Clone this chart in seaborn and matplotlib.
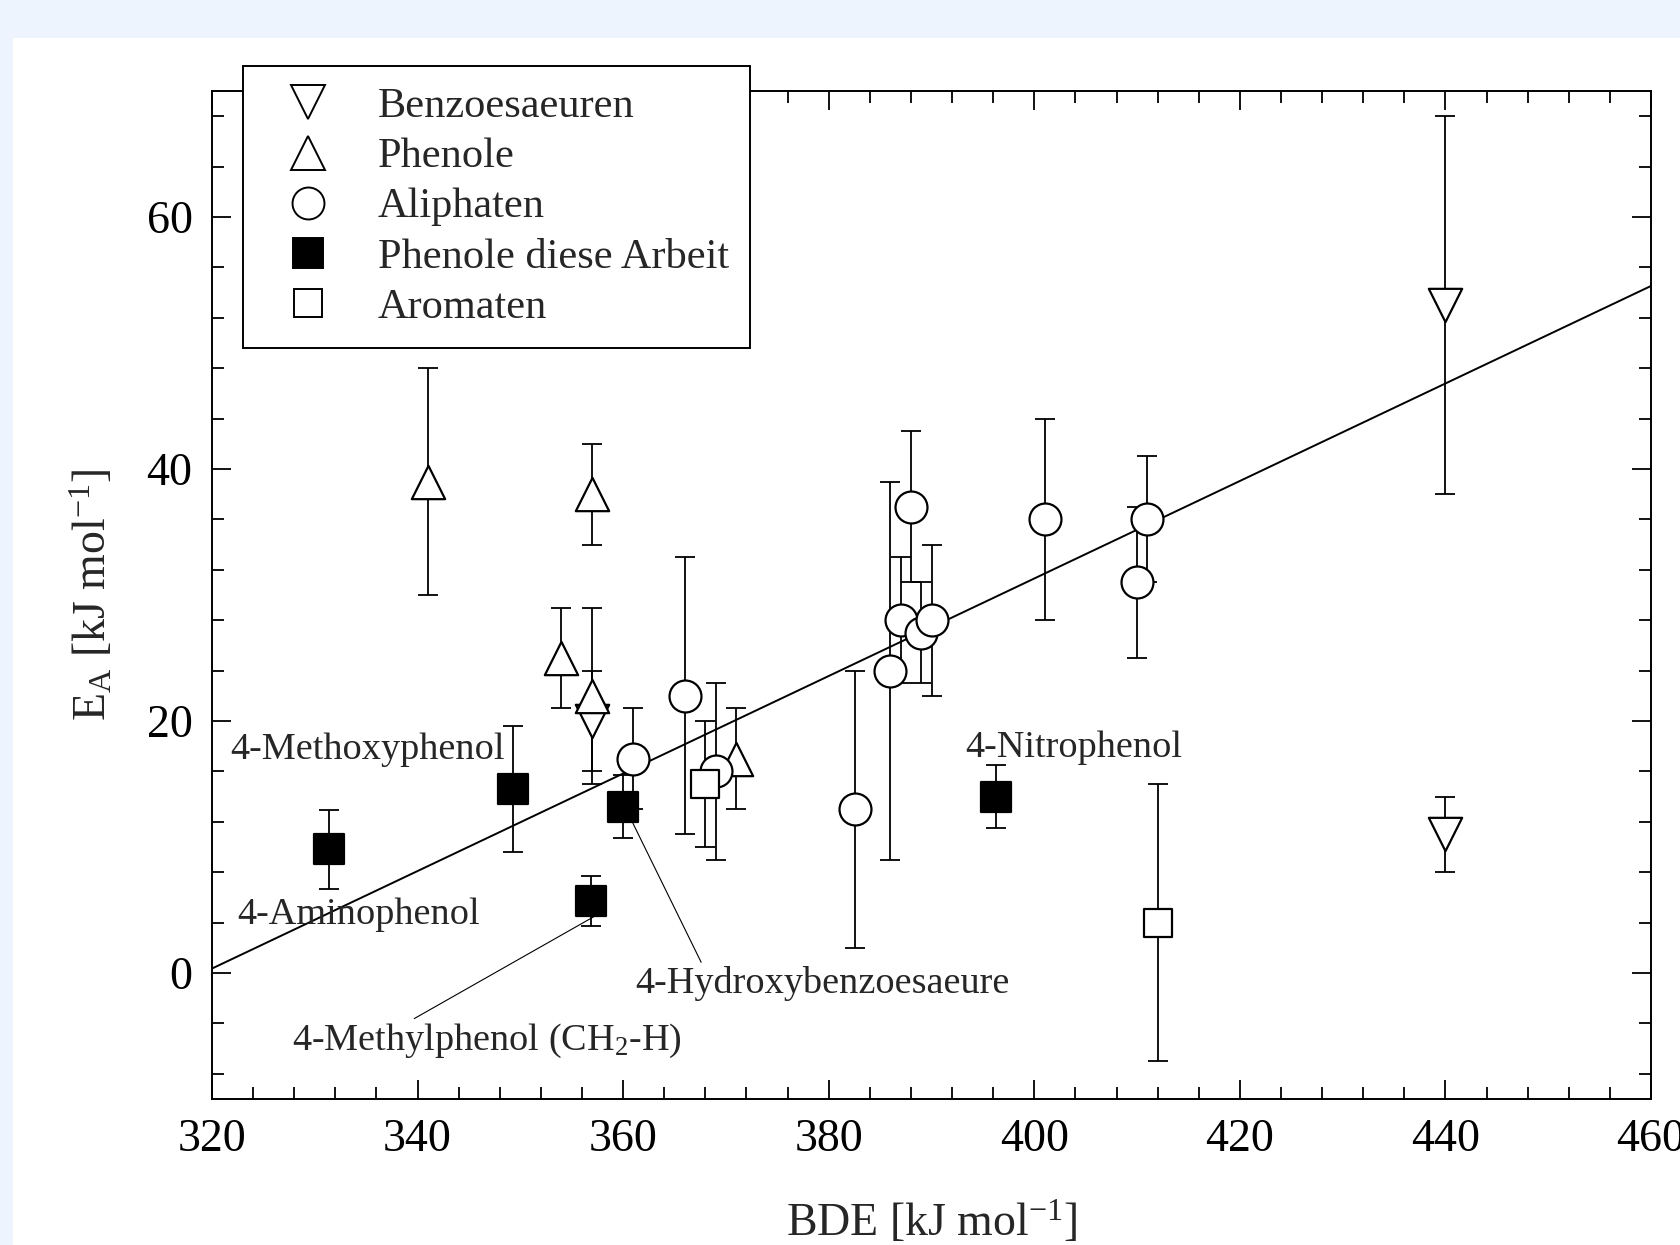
import matplotlib
matplotlib.use('Agg')
from matplotlib import pyplot as plt
from matplotlib.lines import Line2D
from matplotlib.patches import Rectangle
from matplotlib.ticker import MultipleLocator
import seaborn as sns
import pandas as pd
import numpy as np

# BDE [kJ/mol], EA [kJ/mol], error
benzoe_bde = [440, 440, 357]
benzoe_ea = [53, 11, 20]
benzoe_err = [15, 3, 4]

phenol_bde = [341, 357, 354, 357, 371]
phenol_ea = [39, 38, 25, 22, 17]
phenol_err = [9, 4, 4, 7, 4]

aliph_bde = [361, 366, 369, 382.6, 386, 387, 388, 389, 390, 401, 410, 411]
aliph_ea = [17, 22, 16, 13, 24, 28, 37, 27, 28, 36, 31, 36]
aliph_err = [4, 11, 7, 11, 15, 5, 6, 4, 6, 8, 6, 5]

own_bde = [331.4, 349.3, 360, 356.9, 396.3]
own_ea = [9.8, 14.6, 13.2, 5.7, 14.0]
own_err = [3.1, 5, 2.5, 2, 2.5]

arom_bde = [368, 412]
arom_ea = [15, 4]
arom_err = [5, 11]

fit_slope = 0.387
fit_intercept = 0.35 - 0.387 * 320

groups = ['Benzoesaeuren', 'Phenole', 'Aliphaten', 'Phenole diese Arbeit', 'Aromaten']

sns.set_style('ticks')
plt.rcParams['font.family'] = ['Liberation Serif', 'DejaVu Serif']
plt.rcParams['mathtext.fontset'] = 'custom'
plt.rcParams['mathtext.rm'] = 'Liberation Serif'
plt.rcParams['mathtext.it'] = 'Liberation Serif'
plt.rcParams['mathtext.default'] = 'regular'

frames = []
for name, b, e, s in [(groups[0], benzoe_bde, benzoe_ea, benzoe_err),
                      (groups[1], phenol_bde, phenol_ea, phenol_err),
                      (groups[2], aliph_bde, aliph_ea, aliph_err),
                      (groups[3], own_bde, own_ea, own_err),
                      (groups[4], arom_bde, arom_ea, arom_err)]:
    frames.append(pd.DataFrame({'BDE': b, 'EA': e, 'err': s, 'group': name}))
df = pd.concat(frames, ignore_index=True)

style = {
    'Benzoesaeuren': ('v', 'white', 24),
    'Phenole': ('^', 'white', 24),
    'Aliphaten': ('o', 'white', 23),
    'Phenole diese Arbeit': ('s', 'black', 21),
    'Aromaten': ('s', 'white', 20),
}

fig = plt.figure(figsize=(16.81, 12.45), dpi=100)
fig.patch.set_facecolor('#eef4fd')
fig.patches.append(Rectangle((13 / 1681, 0), 1, 1 - 38 / 1245, transform=fig.transFigure,
                             facecolor='white', edgecolor='none', zorder=-10))
ax = fig.add_axes([0.1261, 0.1173, 0.8561, 0.8096])
ax.set_facecolor('white')

# regression line
xs = np.array([320, 460])
ax.plot(xs, fit_slope * xs + fit_intercept, color='black', lw=1.4, zorder=2)

for g in groups:
    d = df[df.group == g]
    m, fc, ms = style[g]
    ax.errorbar(d.BDE, d.EA, yerr=d.err, fmt='none', ecolor='black', elinewidth=1.3,
                capsize=7, capthick=1.3, zorder=3)
    sns.scatterplot(x='BDE', y='EA', data=d, marker=m, color=fc, edgecolor='black',
                    linewidth=1.6, s=ms ** 2, ax=ax, zorder=4, legend=False)

ax.set_xlim(320, 460)
ax.set_ylim(-10, 70)
ax.xaxis.set_major_locator(MultipleLocator(20))
ax.xaxis.set_minor_locator(MultipleLocator(4))
ax.yaxis.set_major_locator(MultipleLocator(20))
ax.yaxis.set_minor_locator(MultipleLocator(4))
ax.tick_params(which='both', direction='in', top=True, right=True, colors='black', width=1.3)
ax.tick_params(which='major', length=14, labelsize=33, pad=14)
ax.tick_params(which='minor', length=8.5)
for sp in ax.spines.values():
    sp.set_color('black')
    sp.set_linewidth(1.4)

ax.set_xlabel('BDE [kJ mol$^{-1}$]', fontsize=33, labelpad=28)
ax.set_ylabel('E$_A$ [kJ mol$^{-1}$]', fontsize=33, labelpad=22)

# annotations
fs = 27.5
ax.text(321.8, 17.7, '4-Methoxyphenol', fontsize=fs, ha='left', va='center')
ax.text(322.5, 4.6, '4-Aminophenol', fontsize=fs, ha='left', va='center')
ax.text(403.8, 17.9, '4-Nitrophenol', fontsize=fs, ha='center', va='center')
ax.annotate('4-Methylphenol (CH$_2$-H)', xy=(358.3, 5.0), xytext=(346.7, -5.4),
            fontsize=fs, ha='center', va='center',
            arrowprops=dict(arrowstyle='-', lw=0.8, color='black', relpos=(0.3, 1.0),
                            shrinkA=0, shrinkB=0))
ax.annotate('4-Hydroxybenzoesaeure', xy=(360.4, 12.8), xytext=(379.4, -0.8),
            fontsize=fs, ha='center', va='center',
            arrowprops=dict(arrowstyle='-', lw=0.8, color='black', relpos=(0.18, 1.0),
                            shrinkA=0, shrinkB=0))

handles = []
for g in groups:
    m, fc, ms = style[g]
    handles.append(Line2D([], [], linestyle='none', marker=m, markerfacecolor=fc,
                          markeredgecolor='black', markeredgewidth=1.4, markersize=ms))
leg = fig.legend(handles, groups, loc='upper left', bbox_to_anchor=(0.1446, 0.9466),
                 borderaxespad=0, fontsize=30.5, frameon=True, fancybox=False, framealpha=1,
                 labelspacing=0.27, handletextpad=0.63, borderpad=0.5, handlelength=2.05)
leg.get_frame().set_edgecolor('black')
leg.get_frame().set_linewidth(1.4)
leg.set_zorder(10)

fig.savefig('out.png', dpi=100, facecolor=fig.get_facecolor())
